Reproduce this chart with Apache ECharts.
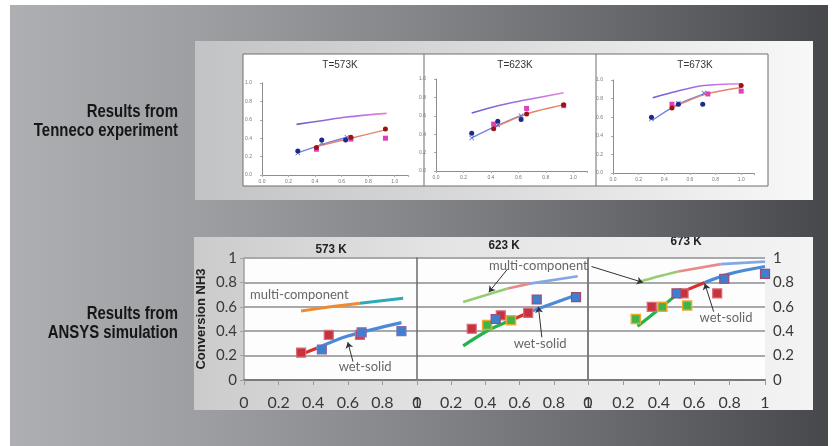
<!DOCTYPE html>
<html><head><meta charset="utf-8">
<script src="https://cdn.jsdelivr.net/npm/echarts@6/dist/echarts.min.js"></script>
<style>html,body{margin:0;padding:0;background:#fff;}#c{width:835px;height:446px;}</style>
</head><body><div id="c"></div>
<script>
// ---------- DATA ----------
const sideLabelsTop = ['Results from', 'Tenneco experiment'];
const sideLabelsBottom = ['Results from', 'ANSYS simulation'];
const topTitles = ['T=573K', 'T=623K', 'T=673K'];
const bottomTitles = ['573 K', '623 K', '673 K'];
const yAxisName = 'Conversion NH3';
const topTickLabels = ['0.0', '0.2', '0.4', '0.6', '0.8', '1.0'];

// Tenneco experiment, T=573K
const t573Multi = [[0.26,0.55],[0.45,0.59],[0.64,0.63],[0.94,0.67]];
const t573BlueLine = [[0.27,0.24],[0.45,0.33],[0.64,0.41]];
const t573RedLine = [[0.41,0.31],[0.67,0.40],[0.93,0.49]];
const t573BlueDot = [[0.27,0.26],[0.45,0.38],[0.63,0.38]];
const t573BlueX = [[0.27,0.24],[0.45,0.35],[0.64,0.41]];
const t573RedDot = [[0.41,0.30],[0.67,0.41],[0.93,0.50]];
const t573Magenta = [[0.41,0.28],[0.67,0.39],[0.93,0.40]];
// T=623K
const t623Multi = [[0.26,0.63],[0.45,0.71],[0.61,0.76],[0.93,0.85]];
const t623BlueLine = [[0.26,0.36],[0.44,0.49],[0.61,0.60]];
const t623RedLine = [[0.42,0.47],[0.66,0.62],[0.93,0.72]];
const t623BlueDot = [[0.26,0.41],[0.45,0.54],[0.62,0.56]];
const t623BlueX = [[0.26,0.36],[0.45,0.50],[0.62,0.60]];
const t623RedDot = [[0.42,0.46],[0.66,0.62],[0.93,0.72]];
const t623Magenta = [[0.42,0.51],[0.66,0.68],[0.93,0.71]];
// T=673K
const t673Multi = [[0.31,0.81],[0.50,0.88],[0.71,0.94],[1.0,0.96]];
const t673BlueLine = [[0.31,0.57],[0.51,0.74],[0.71,0.85]];
const t673RedLine = [[0.46,0.70],[0.73,0.85],[1.0,0.92]];
const t673BlueDot = [[0.30,0.60],[0.51,0.74],[0.70,0.74]];
const t673BlueX = [[0.30,0.58],[0.51,0.75],[0.71,0.86]];
const t673RedDot = [[0.46,0.70],[1.0,0.94]];
const t673Magenta = [[0.46,0.74],[0.74,0.85],[1.0,0.88]];

// ANSYS simulation, 573 K
const a573MultiA = [[0.33,0.565],[0.50,0.60],[0.67,0.63]];
const a573MultiB = [[0.67,0.63],[0.92,0.67]];
const a573WetA = [[0.32,0.205],[0.42,0.26]];
const a573WetB = [[0.42,0.26],[0.60,0.36],[0.91,0.47]];
const a573SqRed = [[0.33,0.225],[0.49,0.37],[0.67,0.37]];
const a573SqBlue = [[0.45,0.25],[0.68,0.39],[0.91,0.40]];
// 623 K
const a623MultiA = [[0.27,0.64],[0.53,0.75]];
const a623MultiB = [[0.53,0.75],[0.66,0.79]];
const a623MultiC = [[0.66,0.79],[0.94,0.85]];
const a623WetA = [[0.27,0.28],[0.42,0.41],[0.55,0.49]];
const a623WetB = [[0.55,0.49],[0.68,0.57]];
const a623WetC = [[0.68,0.57],[0.94,0.70]];
const a623SqRed = [[0.32,0.42],[0.49,0.53],[0.65,0.55]];
const a623SqGreen = [[0.41,0.45],[0.55,0.49]];
const a623SqBlue = [[0.46,0.50],[0.70,0.66],[0.93,0.68]];
// 673 K
const a673MultiA = [[0.28,0.80],[0.40,0.85],[0.51,0.89]];
const a673MultiB = [[0.51,0.89],[0.75,0.95]];
const a673MultiC = [[0.75,0.95],[1.0,0.97]];
const a673WetA = [[0.28,0.44],[0.40,0.58],[0.51,0.71]];
const a673WetB = [[0.51,0.71],[0.66,0.80]];
const a673WetC = [[0.66,0.80],[0.80,0.87],[1.0,0.93]];
const a673SqGreen = [[0.27,0.50],[0.42,0.60],[0.56,0.61]];
const a673SqRed = [[0.36,0.60],[0.54,0.71],[0.73,0.71]];
const a673SqBlue = [[0.50,0.71],[0.77,0.83],[1.0,0.87]];

// annotations: [chartIndex, x, y, text]
const annotationTexts = [
  [3, 0.32, 0.70, 'multi-component'],
  [3, 0.70, 0.11, 'wet-solid'],
  [4, 0.71, 0.94, 'multi-component'],
  [4, 0.72, 0.30, 'wet-solid'],
  [5, 0.78, 0.51, 'wet-solid']
];
// arrows: [chartIndex, x1, y1, x2, y2]
const annotationArrows = [
  [3, 0.63, 0.15, 0.60, 0.31],
  [4, 0.53, 0.91, 0.42, 0.72],
  [4, 0.73, 0.35, 0.71, 0.60],
  [5, 0.02, 0.93, 0.31, 0.80],
  [5, 0.71, 0.56, 0.66, 0.79]
];

// ---------- STYLE / LAYOUT ----------
const SANS = "'Liberation Sans',Arial,sans-serif";
const LABELF = "Lato,'Liberation Sans',sans-serif";
const bgStops = [
  {offset:0, color:'#aeafb3'}, {offset:0.25, color:'#9c9da1'},
  {offset:0.5, color:'#848589'}, {offset:0.75, color:'#67686b'}, {offset:1, color:'#47484b'}
];
const bgFill = {type:'linear', x:10, y:0, x2:828, y2:0, global:true, colorStops:bgStops};

const grids = [
  {left:262, top:83, width:146, height:92},
  {left:436, top:79, width:151, height:92},
  {left:613, top:80, width:141, height:93},
  {left:244, top:258, width:173, height:122},
  {left:417, top:258, width:171, height:122},
  {left:588, top:258, width:177, height:122}
];

function topX(gi){
  return {gridIndex:gi, type:'value', min:0, max:1.1, interval:0.2,
    axisLine:{lineStyle:{color:'#8d8d8d', width:1}},
    axisTick:{show:true, length:2, lineStyle:{color:'#aaa'}},
    axisLabel:{fontSize:5, color:'#777', margin:4,
      formatter:v => { const i = Math.round(v/0.2); return (v > 1.001) ? '' : topTickLabels[i]; }},
    splitLine:{show:false}};
}
function topY(gi){
  return {gridIndex:gi, type:'value', min:0, max:1, interval:0.2,
    axisLine:{show:true, lineStyle:{color:'#8d8d8d', width:1}},
    axisTick:{show:true, length:2, lineStyle:{color:'#aaa'}},
    axisLabel:{fontSize:5, color:'#777', margin:10,
      formatter:v => topTickLabels[Math.round(v/0.2)]},
    splitLine:{show:false}};
}
function botX(gi){
  return {gridIndex:gi, type:'value', min:0, max:1, interval:0.2,
    axisLine:{lineStyle:{color:'#7a7a7a', width:2}},
    axisTick:{show:true, length:5, lineStyle:{color:'#999', width:1}},
    axisLabel:{fontSize:16, color:'#3a3a3a', margin:15, fontFamily:LABELF},
    splitLine:{show:false}};
}
function botY(gi, opts){
  return Object.assign({gridIndex:gi, type:'value', min:0, max:1, interval:0.2,
    axisLine:{show:true, onZero:false, lineStyle:{color:'#6a6a6a', width:1.5}},
    axisTick:{show:false},
    axisLabel:{show:false},
    splitLine:{show:true, lineStyle:{color:'#a9a9a9', width:2}}}, opts || {});
}

const xAxes = [topX(0), topX(1), topX(2), botX(3), botX(4), botX(5)];
const yAxes = [topY(0), topY(1), topY(2),
  botY(3, {axisLine:{show:true, lineStyle:{color:'#a0a0a0', width:1.5}},
    axisTick:{show:true, length:4, lineStyle:{color:'#a0a0a0'}},
    axisLabel:{show:true, fontSize:15, color:'#3a3a3a', margin:7, fontFamily:LABELF},
    name:yAxisName, nameLocation:'middle', nameGap:36,
    nameTextStyle:{fontSize:13, fontWeight:'bold', color:'#222', fontFamily:SANS}}),
  botY(4),
  botY(5, {position:'right', axisLine:{show:true, lineStyle:{color:'#b0b0b0', width:1.5}},
    axisLabel:{show:true, fontSize:15, color:'#3a3a3a', margin:8, fontFamily:LABELF}}),
  botY(5, {position:'left', splitLine:{show:false}})
];

const series = [];
function line(ai, data, color, width){
  series.push({type:'line', xAxisIndex:ai, yAxisIndex:ai, data:data, showSymbol:false, symbol:'none',
    smooth:0.3, lineStyle:{color:color, width:width}, silent:true, z:3});
}
function pts(ai, data, symbol, size, color, border, bw){
  series.push({type:'scatter', xAxisIndex:ai, yAxisIndex:ai, data:data, symbol:symbol, symbolSize:size,
    itemStyle:{color:color, borderColor:border || color, borderWidth:bw || 0, opacity:1}, silent:true, z:4});
}
const xPath = 'path://M0,1L1,0L5,4L9,0L10,1L6,5L10,9L9,10L5,6L1,10L0,9L4,5Z';
const multiGrad = {type:'linear', x:0, y:0, x2:1, y2:0,
  colorStops:[{offset:0, color:'#6a5fd6'}, {offset:0.6, color:'#b070e0'}, {offset:1, color:'#e884d8'}]};

// top charts
[[t573Multi,t573BlueLine,t573RedLine,t573BlueDot,t573BlueX,t573RedDot,t573Magenta],
 [t623Multi,t623BlueLine,t623RedLine,t623BlueDot,t623BlueX,t623RedDot,t623Magenta],
 [t673Multi,t673BlueLine,t673RedLine,t673BlueDot,t673BlueX,t673RedDot,t673Magenta]
].forEach((s, i) => {
  line(i, s[0], multiGrad, 1.6);
  line(i, s[1], '#7384e0', 1.4);
  line(i, s[2], '#e3846f', 1.4);
  pts(i, s[4], xPath, 5, '#4a62cc');
  pts(i, s[6], 'rect', 5, '#e03fb8');
  pts(i, s[5], 'circle', 5, '#9a1414');
  pts(i, s[3], 'circle', 5, '#1c2a8c');
});

// bottom charts
const ORANGE='#ee8a30', TEAL='#30a8b8', RED='#d8302c', BLUE='#4a8ad8', GREEN='#26b24a';
const LGREEN='#96cc72', LRED='#e88a8a', LBLUE='#82a8e6';
line(3, a573MultiA, ORANGE, 3); line(3, a573MultiB, TEAL, 3);
line(3, a573WetA, RED, 3.2); line(3, a573WetB, BLUE, 3.2);
pts(3, a573SqRed, 'rect', 9, '#c8323c', '#d86a7a', 1.2);
pts(3, a573SqBlue, 'rect', 9, '#3f7fd0', '#8a6aa8', 1.2);

line(4, a623MultiA, LGREEN, 2.6); line(4, a623MultiB, LRED, 2.6); line(4, a623MultiC, LBLUE, 2.6);
line(4, a623WetA, GREEN, 3.2); line(4, a623WetB, RED, 3.2); line(4, a623WetC, BLUE, 3.2);
pts(4, a623SqRed, 'rect', 9, '#c8323c', '#d86a7a', 1.2);
pts(4, a623SqGreen, 'rect', 9, '#3db54a', '#f0a828', 1.5);
pts(4, a623SqBlue, 'rect', 9, '#3f7fd0', '#a04a70', 1.2);

line(5, a673MultiA, LGREEN, 2.6); line(5, a673MultiB, LRED, 2.6); line(5, a673MultiC, LBLUE, 2.6);
line(5, a673WetA, GREEN, 3.2); line(5, a673WetB, RED, 3.2); line(5, a673WetC, BLUE, 3.2);
pts(5, a673SqGreen, 'rect', 9, '#3db54a', '#f0a828', 1.5);
pts(5, a673SqRed, 'rect', 9, '#c8323c', '#d86a7a', 1.2);
pts(5, a673SqBlue, 'rect', 9, '#3f7fd0', '#a04a70', 1.2);

// annotation arrows and texts
annotationArrows.forEach(a => {
  series.push({type:'lines', coordinateSystem:'cartesian2d', xAxisIndex:a[0], yAxisIndex:a[0],
    data:[{coords:[[a[1],a[2]],[a[3],a[4]]]}], symbol:['none','arrow'], symbolSize:[0,6],
    lineStyle:{color:'#333', width:1, opacity:1, curveness:0}, silent:true, z:5});
});
annotationTexts.forEach(t => {
  series.push({type:'scatter', xAxisIndex:t[0], yAxisIndex:t[0], symbolSize:0,
    data:[{value:[t[1],t[2]], name:t[3]}], silent:true, z:6,
    label:{show:true, position:'inside', formatter:'{b}', fontSize:13, color:'#404040', fontFamily:LABELF}});
});

// ---------- GRAPHICS (backgrounds, frames, titles) ----------
const g = [];
g.push({type:'rect', z:-20, shape:{x:10, y:5, width:818, height:441}, style:{fill:bgFill}});
g.push({type:'rect', z:-19, shape:{x:195, y:41, width:618, height:159},
  style:{fill:{type:'linear', x:0, y:0, x2:1, y2:0, colorStops:[{offset:0,color:'#c2c3c5'},{offset:0.5,color:'#dcdcde'},{offset:1,color:'#f8f8f8'}]}}});
g.push({type:'rect', z:-18, shape:{x:243, y:54, width:525, height:132}, style:{fill:'#ffffff', stroke:'#6e6e6e', lineWidth:1}});
g.push({type:'line', z:-17, shape:{x1:424, y1:54, x2:424, y2:186}, style:{stroke:'#6e6e6e', lineWidth:1}});
g.push({type:'line', z:-17, shape:{x1:596, y1:54, x2:596, y2:186}, style:{stroke:'#6e6e6e', lineWidth:1}});
g.push({type:'rect', z:-19, shape:{x:194, y:237, width:619, height:173},
  style:{fill:{type:'linear', x:0, y:0, x2:1, y2:0, colorStops:[{offset:0,color:'#cbcbcb'},{offset:0.4,color:'#e4e4e4'},{offset:1,color:'#f3f3f3'}]}}});
g.push({type:'rect', z:-18, shape:{x:244, y:258, width:521, height:122}, style:{fill:'#fdfdfd'}});
// side labels (condensed bold)
function sideText(txt, y){
  g.push({type:'text', z:-10, x:178, y:y, scaleX:0.83,
    style:{x:0, y:0, text:txt, align:'right', verticalAlign:'middle', font:"bold 18px "+SANS, fill:'#161616'}});
}
sideText(sideLabelsTop[0], 112); sideText(sideLabelsTop[1], 131);
sideText(sideLabelsBottom[0], 314); sideText(sideLabelsBottom[1], 333);
// top titles
[[340,65],[515,65],[695,65]].forEach((p,i) => {
  g.push({type:'text', z:-10, style:{x:p[0], y:p[1], text:topTitles[i], align:'center', verticalAlign:'middle', font:"10px "+SANS, fill:'#333'}});
});
// bottom titles
[[331,249],[504,245],[686,241]].forEach((p,i) => {
  g.push({type:'text', z:-10, x:p[0], y:p[1], scaleX:0.9,
    style:{x:0, y:0, text:bottomTitles[i], align:'center', verticalAlign:'middle', font:"bold 13px "+SANS, fill:'#222'}});
});
// strip of background above bottom panel (clips the 673 K title)
g.push({type:'rect', z:-9, shape:{x:560, y:226, width:260, height:11}, style:{fill:bgFill}});

const chart = echarts.init(document.getElementById('c'), null, {renderer:'canvas'});
chart.setOption({
  animation:false,
  backgroundColor:'#ffffff',
  grid:grids,
  xAxis:xAxes,
  yAxis:yAxes,
  series:series,
  graphic:{elements:g}
});
</script></body></html>
